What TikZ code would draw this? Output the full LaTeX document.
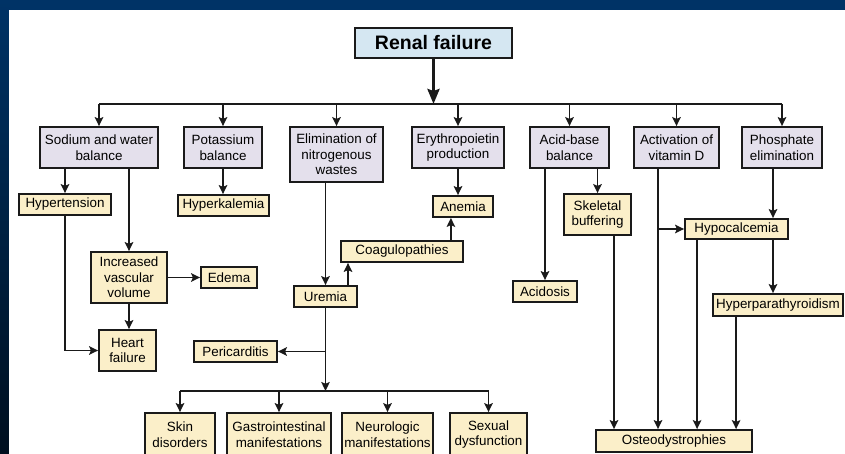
\documentclass[tikz,border=0pt]{standalone}
\usepackage{fontspec}
\setmainfont{Liberation Sans}
\usetikzlibrary{arrows.meta}
\definecolor{frameblue}{HTML}{003366}
\definecolor{framedark}{HTML}{000F1F}
\definecolor{lavender}{HTML}{E4E0EC}
\definecolor{cream}{HTML}{FBEFC9}
\definecolor{paleblue}{HTML}{D5E7F2}
\definecolor{ink}{HTML}{1A1A1A}

\begin{document}
\begin{tikzpicture}[x=1pt, y=-1pt, >={Stealth[length=9pt,width=8.5pt,inset=1.8pt]},
		box/.style={draw=ink, line width=1.8pt, align=center, inner sep=0pt, font=\fontsize{13.4}{15.5}\selectfont},
		group/.style={box, fill=lavender},
		effect/.style={box, fill=cream},
		boxsize/.style 2 args={minimum width=#1pt, minimum height=#2pt},
		link/.style={draw=ink, line width=1.6pt}]
	\useasboundingbox (0,0) rectangle (845,454);
	\fill[frameblue] (0,0) rectangle (845,10);
	\shade[top color=frameblue, bottom color=framedark] (0,0) rectangle (9,454);
	\fill[white] (9,10) rectangle (845,454);

	\node[box, fill=paleblue, boxsize={157}{30}, font=\fontsize{19.5}{22}\selectfont\bfseries] (renal) at (433.5,43) {Renal failure};

	\node[group, boxsize={118}{41}] (sodium) at (99,147.5) {Sodium and water\\balance};
	\node[group, boxsize={78}{41}] (potassium) at (223,147.5) {Potassium\\balance};
	\node[group, boxsize={93}{55}] (elim) at (336.5,154.5) {Elimination of\\nitrogenous\\wastes};
	\node[group, boxsize={92}{41}] (erythro) at (458,147.5) {Erythropoietin\\production};
	\node[group, boxsize={79}{41}] (acid) at (569.5,147.5) {Acid-base\\balance};
	\node[group, boxsize={85}{41}] (vitd) at (676.5,147.5) {Activation of\\vitamin D};
	\node[group, boxsize={80}{41}] (phos) at (782,147.5) {Phosphate\\elimination};

	\node[effect, boxsize={92}{21}] (hyper) at (65,204.5) {Hypertension};
	\node[effect, boxsize={91}{21}] (hyperk) at (223.5,205.5) {Hyperkalemia};
	\node[effect, boxsize={76}{51}] (volume) at (129,277.5) {Increased\\vascular\\volume};
	\node[effect, boxsize={56}{21}] (edema) at (229,277.5) {Edema};
	\node[effect, boxsize={57}{41}] (heart) at (127.5,350.5) {Heart\\failure};
	\node[effect, boxsize={60}{21}] (anemia) at (463,206.5) {Anemia};
	\node[effect, boxsize={122}{21}] (coag) at (402,251.5) {Coagulopathies};
	\node[effect, boxsize={63}{21}] (uremia) at (325.5,296.5) {Uremia};
	\node[effect, boxsize={83}{21}] (pericard) at (235.5,351.5) {Pericarditis};
	\node[effect, boxsize={64}{21}] (acidosis) at (545,291.5) {Acidosis};
	\node[effect, boxsize={67}{41}] (skeletal) at (597.5,214.5) {Skeletal\\buffering};
	\node[effect, boxsize={103}{20}] (hypocal) at (736.5,229) {Hypocalcemia};
	\node[effect, boxsize={130}{22}] (hyperpara) at (778,305) {Hyperparathyroidism};
	\node[effect, boxsize={156}{22}] (osteo) at (674,441) {Osteodystrophies};
	\node[effect, boxsize={70}{43}] (skin) at (180,434.5) {Skin\\disorders};
	\node[effect, boxsize={104}{43}] (gastro) at (279,434.5) {Gastrointestinal\\manifestations};
	\node[effect, boxsize={91}{43}] (neuro) at (387.5,434.5) {Neurologic\\manifestations};
	\node[effect, boxsize={77}{43}] (sexual) at (488.5,434.5) {Sexual\\dysfunction};

	\coordinate (bus) at (433.5,104);
	\coordinate (bus2) at (325.5,391);
	\coordinate (ub) at ([xshift=22.5pt]uremia.north);
	\coordinate (ca) at ([xshift=-13pt]coag.north east);
	\coordinate (sk) at ([xshift=16.5pt]skeletal.south);
	\coordinate (vd) at ([xshift=-18.5pt]vitd.south);
	\coordinate (ph) at ([xshift=-9pt]phos.south);
	\coordinate (hc) at ([xshift=13pt]hypocal.south west);
	\coordinate (hp) at ([xshift=24pt]hyperpara.south west);

	\draw[link, line width=3pt, -{Stealth[length=15pt,width=12pt,inset=2pt]}] (renal) -- (bus);
	\draw[link] (sodium.north |- bus) -- (phos.north |- bus);
	\foreach \n in {sodium,potassium,elim,erythro,acid,vitd,phos}
		\draw[link,->] (\n.north |- bus) -- (\n.north);

	\draw[link,->] (hyper.north |- sodium.south) -- (hyper.north);
	\draw[link,->] (volume.north |- sodium.south) -- (volume.north);
	\draw[link,->] (volume) -- (edema);
	\draw[link,->] (volume.south) -- (volume.south |- heart.north);
	\draw[link,->] (hyper.south) |- (heart.west);
	\draw[link,->] (potassium) -- (potassium |- hyperk.north);
	\draw[link,->] (erythro) -- (erythro |- anemia.north);
	\draw[link,->] (uremia.north |- elim.south) -- (uremia.north);
	\draw[link,->] (ub) -- (ub |- coag.south);
	\draw[link,->] (ca) -- (ca |- anemia.south);
	\draw[link,->] (acidosis.north |- acid.south) -- (acidosis.north);
	\draw[link,->] (skeletal.north |- acid.south) -- (skeletal.north);
	\draw[link,->] (sk) -- (sk |- osteo.north);
	\draw[link,->] (vd) -- (vd |- osteo.north);
	\draw[link,->] (vd |- hypocal) -- (hypocal.west);
	\draw[link,->] (ph) -- (ph |- hypocal.north);
	\draw[link,->] (ph |- hypocal.south) -- (ph |- hyperpara.north);
	\draw[link,->] (hc) -- (hc |- osteo.north);
	\draw[link,->] (hp) -- (hp |- osteo.north);

	\draw[link,->] (uremia) -- (bus2);
	\draw[link,->] (uremia |- pericard) -- (pericard.east);
	\draw[link] (skin.north |- bus2) -- (sexual.north |- bus2);
	\foreach \n in {skin,gastro,neuro,sexual}
		\draw[link,->] (\n.north |- bus2) -- (\n.north);
\end{tikzpicture}
\end{document}
